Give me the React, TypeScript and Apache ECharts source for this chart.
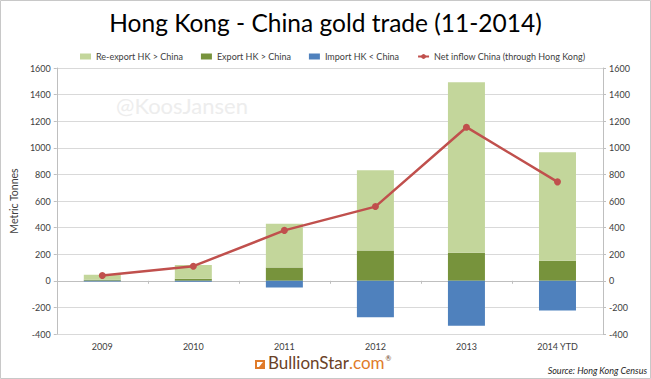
import React, { useEffect, useRef } from "react";
import * as echarts from "echarts";

const categories = ["2009", "2010", "2011", "2012", "2013", "2014 YTD"];
const reExport = [37, 103, 329, 604, 1283, 817];
const exportHK = [8, 15, 100, 228, 210, 150];
const importHK = [-5, -8, -50, -274, -338, -223];
const netInflow = [40, 110, 379, 558, 1155, 744];

const FONT = "Lato, 'Open Sans', sans-serif";

export default function App() {
  const ref = useRef<HTMLDivElement>(null);
  useEffect(() => {
    document.body.style.margin = "0";
    const chart = echarts.init(ref.current!, null, { renderer: "svg" });
    const axisLabel = {
      color: "#404040",
      fontSize: 9,
      fontFamily: FONT,
    };
    const yAxisBase = {
      type: "value",
      min: -400,
      max: 1600,
      interval: 200,
      axisLine: { show: true, lineStyle: { color: "#bfbfbf" } },
      axisTick: { show: true, length: 3, lineStyle: { color: "#bfbfbf" } },
      splitLine: { show: true, lineStyle: { color: "#d9d9d9" } },
    };
    const yLabel = { ...axisLabel, margin: 6, formatter: (v: number) => String(v) };
    chart.setOption({
      animation: false,
      backgroundColor: "#ffffff",
      title: {
        text: "Hong Kong - China gold trade (11-2014)",
        left: "center",
        top: 5,
        textStyle: { fontSize: 24.5, fontWeight: "normal", color: "#000", fontFamily: FONT },
      },
      legend: {
        left: 75,
        top: 47,
        itemWidth: 11,
        itemHeight: 6,
        itemGap: 18,
        textStyle: { fontSize: 9, color: "#404040", fontFamily: FONT },
        data: [
          { name: "Re-export HK > China", icon: "rect" },
          { name: "Export HK > China", icon: "rect" },
          { name: "Import HK < China", icon: "rect" },
          { name: "Net inflow China (through Hong Kong)" },
        ],
      },
      grid: { left: 53, right: 48, top: 68, bottom: 45 },
      xAxis: [
        {
          type: "category",
          data: categories,
          axisLine: { show: false, onZero: false },
          axisTick: { show: false },
          axisLabel: { ...axisLabel, margin: 8 },
        },
        {
          type: "category",
          data: categories,
          position: "bottom",
          axisLine: { show: true, onZero: true, lineStyle: { color: "#bfbfbf" } },
          axisTick: { show: true, length: 3, lineStyle: { color: "#bfbfbf" } },
          axisLabel: { show: false },
        },
      ],
      yAxis: [
        {
          ...yAxisBase,
          name: "Metric Tonnes",
          nameLocation: "middle",
          nameGap: 31,
          nameTextStyle: { fontSize: 10.5, color: "#404040", fontFamily: FONT },
          axisLabel: yLabel,
        },
        {
          ...yAxisBase,
          position: "right",
          splitLine: { show: false },
          axisLabel: yLabel,
        },
      ],
      series: [
        {
          name: "Export HK > China",
          type: "bar",
          stack: "t",
          barWidth: 37,
          data: exportHK,
          itemStyle: { color: "#77933c" },
        },
        {
          name: "Re-export HK > China",
          type: "bar",
          stack: "t",
          barWidth: 37,
          data: reExport,
          itemStyle: { color: "#c3d69b" },
        },
        {
          name: "Import HK < China",
          type: "bar",
          stack: "t",
          barWidth: 37,
          data: importHK,
          itemStyle: { color: "#4f81bd" },
        },
        {
          name: "Net inflow China (through Hong Kong)",
          type: "line",
          data: netInflow,
          symbol: "circle",
          symbolSize: 7,
          lineStyle: { color: "#c0504d", width: 2.5 },
          itemStyle: { color: "#c0504d" },
        },
      ],
      graphic: [
        {
          type: "rect",
          shape: { x: 0.5, y: 0.5, width: 650, height: 378 },
          style: { fill: "none", stroke: "#c8c8c8", lineWidth: 1 },
          silent: true,
        },
        {
          type: "text",
          left: 116,
          top: 94,
          style: { text: "@KoosJansen", fontSize: 22, fill: "#ededed", fontFamily: FONT },
          silent: true,
        },
        {
          type: "rect",
          shape: { x: 255, y: 360, width: 10, height: 9 },
          style: { fill: "#e07b2a" },
        },
        {
          type: "polygon",
          shape: { points: [[257, 362], [263, 362], [259, 367], [257, 367]] },
          style: { fill: "#ffffff" },
        },
        {
          type: "text",
          left: 268,
          top: 354,
          style: {
            text: "{a|BullionStar}{b|.com}{c|®}",
            rich: {
              a: { fontSize: 17, fill: "#6b4226", fontFamily: FONT },
              b: { fontSize: 17, fill: "#e07b2a", fontFamily: FONT },
              c: { fontSize: 7, fill: "#6b4226", fontFamily: FONT, verticalAlign: "top", padding: [0, 0, 10, 1] },
            },
          },
        },
        {
          type: "text",
          right: 4,
          top: 366,
          style: {
            text: "Source: Hong Kong Census",
            fontSize: 9,
            fontStyle: "italic",
            fill: "#262626",
            fontFamily: FONT,
          },
        },
      ],
    });
    return () => chart.dispose();
  }, []);
  return <div ref={ref} style={{ width: 651, height: 379 }} />;
}
